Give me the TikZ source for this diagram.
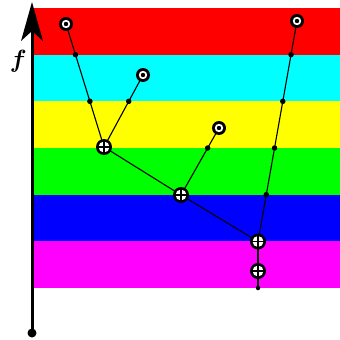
\documentclass[tikz,border=0pt]{standalone}
\usetikzlibrary{calc}
\definecolor{bred}{RGB}{255,0,0}
\definecolor{bcyan}{RGB}{0,255,255}
\definecolor{byellow}{RGB}{255,255,0}
\definecolor{bgreen}{RGB}{0,255,0}
\definecolor{bblue}{RGB}{0,0,255}
\definecolor{bmagenta}{RGB}{255,0,255}
\tikzset{
  band/.style={fill=#1, draw=none},
  leaf/.style={circle, fill=black, draw=none, minimum size=14pt, inner sep=0pt,
    path picture={\fill[white] (path picture bounding box.center) circle (4.2pt);
                  \fill[black] (path picture bounding box.center) circle (2.2pt);}},
  merge/.style={circle, fill=black, draw=none, minimum size=16pt, inner sep=0pt,
    path picture={\fill[white] (path picture bounding box.center) circle (5.5pt);
      \draw[black, line width=1.9pt]
      ([xshift=-7pt]path picture bounding box.center) -- ([xshift=7pt]path picture bounding box.center)
      ([yshift=-7pt]path picture bounding box.center) -- ([yshift=7pt]path picture bounding box.center);}},
  crossdot/.style={circle, fill=black, inner sep=0pt, minimum size=5.5pt},
  edge/.style={line width=1.1pt, black},
  axisline/.style={line width=3pt, black}
}
\newcommand{\fsym}{{\fontencoding{OML}\fontfamily{cmm}\fontseries{b}\fontshape{it}\fontsize{31}{33}\selectfont f}}
\begin{document}
\begin{tikzpicture}[x=1pt, y=-1pt]
\useasboundingbox (0,0) rectangle (340,340);
% bands
\fill[band=bred]     (34,8)      rectangle (340,54.67);
\fill[band=bcyan]    (34,54.67)  rectangle (340,101.33);
\fill[band=byellow]  (34,101.33) rectangle (340,148);
\fill[band=bgreen]   (34,148)    rectangle (340,194.67);
\fill[band=bblue]    (34,194.67) rectangle (340,241.33);
\fill[band=bmagenta] (34,241.33) rectangle (340,288);
% axis
\node[circle, fill=black, inner sep=0pt, minimum size=9pt] (ab) at (32,333) {};
\coordinate (atop) at (32,2);
\coordinate (aneck) at (32,31);
\draw[axisline] (ab.center) -- (aneck);
\fill[black] (atop) -- (43,41) -- (aneck) -- (21,41) -- cycle;
\node[inner sep=0pt] (flab) at (17,61.5) {\fsym};
% tree nodes
\coordinate (l1) at (66,24);
\coordinate (l2) at (143,75);
\coordinate (l3) at (219,128);
\coordinate (l4) at (297,21);
\coordinate (m1) at (104,147);
\coordinate (m2) at (181,195);
\coordinate (m3) at (258,241.5);
\coordinate (m4) at (258,271);
\coordinate (rt) at (258,288);
% edges
\draw[edge] (l1) -- (m1);
\draw[edge] (l2) -- (m1);
\draw[edge] (m1) -- (m2);
\draw[edge] (l3) -- (m2);
\draw[edge] (m2) -- (m3);
\draw[edge] (l4) -- (m3);
\draw[edge] (m3) -- (m4);
\draw[edge] (m4) -- (rt);
% crossing dots
\node[crossdot] (d1) at ($(l1)!0.2493!(m1)$) {};
\node[crossdot] (d2) at ($(l1)!0.6287!(m1)$) {};
\node[crossdot] (d3) at ($(l2)!0.3657!(m1)$) {};
\node[crossdot] (d4) at ($(l3)!0.2985!(m2)$) {};
\node[crossdot] (d5) at ($(l4)!0.1527!(m3)$) {};
\node[crossdot] (d6) at ($(l4)!0.3643!(m3)$) {};
\node[crossdot] (d7) at ($(l4)!0.5760!(m3)$) {};
\node[crossdot] (d8) at ($(l4)!0.7876!(m3)$) {};
\node[crossdot, minimum size=4.5pt] (d9) at (rt) {};
% node symbols
\node[leaf] (L1) at (l1) {};
\node[leaf] (L2) at (l2) {};
\node[leaf] (L3) at (l3) {};
\node[leaf] (L4) at (l4) {};
\node[merge] (M1) at (m1) {};
\node[merge] (M2) at (m2) {};
\node[merge] (M3) at (m3) {};
\node[merge] (M4) at (m4) {};
\end{tikzpicture}
\end{document}
